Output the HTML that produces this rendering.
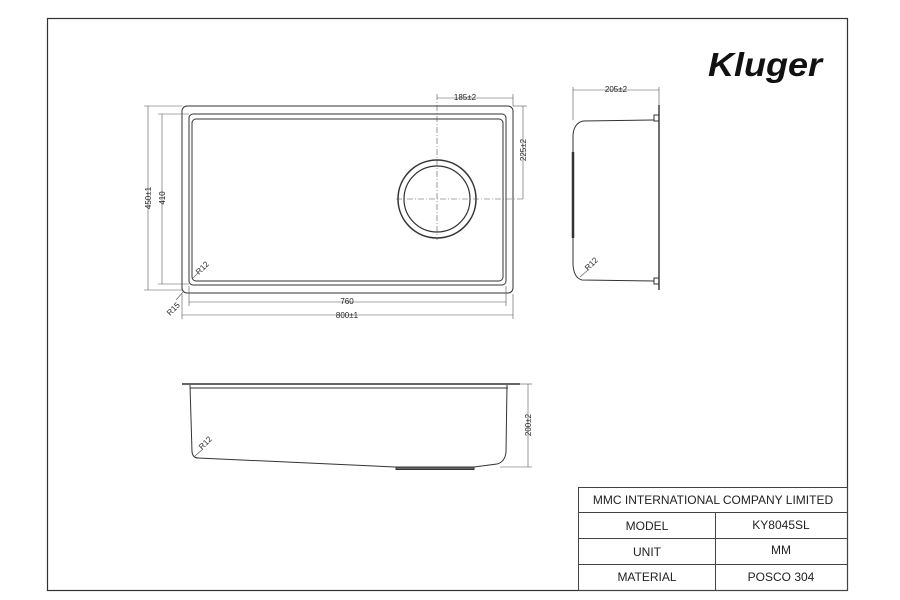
<!DOCTYPE html>
<html><head><style>
body{margin:0;background:#fff;}
svg{display:block;font-family:"Liberation Sans",sans-serif;}
</style></head><body>
<svg width="900" height="600" viewBox="0 0 900 600" xmlns="http://www.w3.org/2000/svg">
<rect x="0" y="0" width="900" height="600" fill="#fff"/>
<rect x="47.5" y="18.5" width="800" height="572" fill="none" stroke="#333" stroke-width="1.2"/>
<!-- logo -->
<text x="708" y="76" font-size="33" font-weight="bold" font-style="italic" fill="#111" textLength="114" lengthAdjust="spacingAndGlyphs">Kluger</text>
<!-- plan view -->
<g fill="none" stroke="#333" stroke-width="1">
<rect x="182" y="106" width="331" height="187" rx="5"/>
<rect x="189" y="114" width="317" height="171" rx="4"/>
<rect x="192" y="119" width="311" height="162" rx="4"/>
<circle cx="437" cy="199" r="39" stroke-width="1.5"/>
<circle cx="437" cy="199" r="33" stroke-width="1.2"/>
</g>
<g stroke="#555" stroke-width="0.6" fill="none">
<line x1="437" y1="94" x2="437" y2="240" stroke-dasharray="6 2 1 2"/>
<line x1="396" y1="199" x2="525" y2="199" stroke-dasharray="6 2 1 2"/>
<line x1="437" y1="98" x2="513" y2="98"/><line x1="513" y1="94" x2="513" y2="106"/>
<line x1="523" y1="106" x2="523" y2="199"/><line x1="513" y1="106" x2="527" y2="106"/>
<line x1="148" y1="106" x2="148" y2="290"/><line x1="144" y1="106" x2="182" y2="106"/><line x1="144" y1="290" x2="182" y2="290"/>
<line x1="162" y1="114" x2="162" y2="284"/><line x1="158" y1="114" x2="189" y2="114"/><line x1="158" y1="284" x2="189" y2="284"/>
<line x1="189" y1="302" x2="506" y2="302"/><line x1="189" y1="286" x2="189" y2="306"/><line x1="506" y1="286" x2="506" y2="306"/>
<line x1="182" y1="315" x2="513" y2="315"/><line x1="182" y1="294" x2="182" y2="319"/><line x1="513" y1="294" x2="513" y2="319"/>
<line x1="176" y1="300" x2="183" y2="292"/>
<line x1="192" y1="279" x2="198" y2="273"/>
</g>
<g font-size="8" fill="#222">
<text x="465" y="100" text-anchor="middle">185±2</text>
<text x="347" y="304" text-anchor="middle">760</text>
<text x="347" y="318" text-anchor="middle">800±1</text>
<text transform="translate(151,198) rotate(-90)" text-anchor="middle">450±1</text>
<text transform="translate(165,198) rotate(-90)" text-anchor="middle">410</text>
<text transform="translate(526,150) rotate(-90)" text-anchor="middle">225±2</text>
<text transform="translate(199,275) rotate(-45)">R12</text>
<text transform="translate(170,316) rotate(-45)">R15</text>
</g>
<!-- side view -->
<g fill="none" stroke="#333" stroke-width="1">
<line x1="659" y1="105" x2="659" y2="290" stroke-width="1.4"/>
<path d="M654 120 L583 121 Q574 123 573 135 L573 265 Q574 278 582 280 L654 281"/>
<rect x="654" y="115" width="5" height="6"/>
<rect x="654" y="278" width="5" height="6"/>
<line x1="573" y1="152" x2="573" y2="238" stroke-width="2.5"/>
</g>
<g stroke="#555" stroke-width="0.6">
<line x1="573" y1="90" x2="659" y2="90"/><line x1="573" y1="87" x2="573" y2="120"/><line x1="659" y1="87" x2="659" y2="105"/>
<line x1="580" y1="277" x2="588" y2="270"/>
</g>
<g font-size="8" fill="#222">
<text x="616" y="92" text-anchor="middle">205±2</text>
<text transform="translate(588,271) rotate(-45)">R12</text>
</g>
<!-- front view -->
<g fill="none" stroke="#333" stroke-width="1">
<line x1="182" y1="384" x2="520" y2="384" stroke-width="1.6"/>
<line x1="190" y1="388" x2="508" y2="388"/>
<path d="M190 385 L192 452 Q193 458 198 458 L395 467 L474 467 L497 464 Q505 462 506 452 L507 385"/>
<rect x="396" y="467" width="78" height="2.5" fill="#666"/>
</g>
<g stroke="#555" stroke-width="0.6">
<line x1="528" y1="384" x2="528" y2="467"/><line x1="520" y1="384" x2="532" y2="384"/><line x1="500" y1="467" x2="532" y2="467"/>
<line x1="195" y1="456" x2="203" y2="449"/>
</g>
<g font-size="8" fill="#222">
<text transform="translate(531,425) rotate(-90)" text-anchor="middle">200±2</text>
<text transform="translate(202,450) rotate(-45)">R12</text>
</g>
<!-- title block -->
<g fill="none" stroke="#444" stroke-width="1">
<rect x="578.5" y="487.5" width="269" height="103"/>
<line x1="578" y1="512.5" x2="848" y2="512.5"/>
<line x1="578" y1="538.5" x2="848" y2="538.5"/>
<line x1="578" y1="564.5" x2="848" y2="564.5"/>
<line x1="715.5" y1="512" x2="715.5" y2="590"/>
</g>
<g font-size="12" fill="#222" text-anchor="middle">
<text x="713" y="504">MMC INTERNATIONAL COMPANY LIMITED</text>
<text x="647" y="530">MODEL</text>
<text x="781" y="529">KY8045SL</text>
<text x="647" y="556">UNIT</text>
<text x="781" y="554">MM</text>
<text x="647" y="581">MATERIAL</text>
<text x="781" y="581">POSCO 304</text>
</g>
</svg>
</body></html>
